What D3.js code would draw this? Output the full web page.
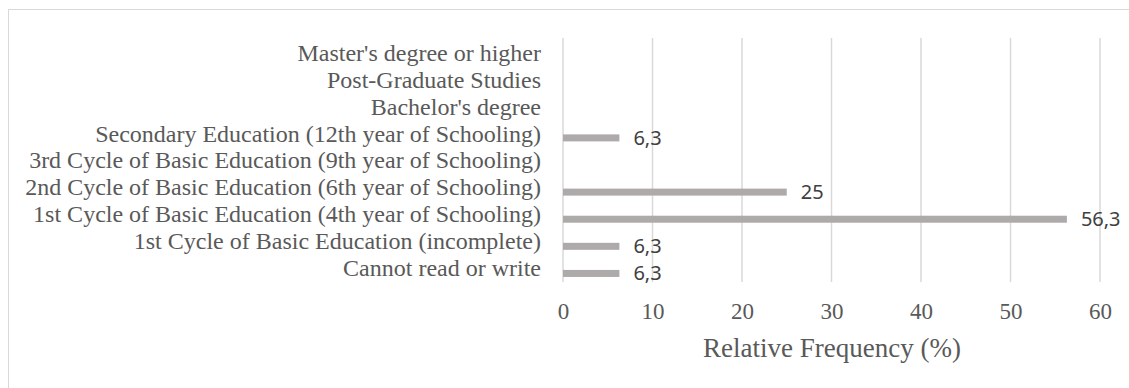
<!DOCTYPE html>
<html>
<head>
<meta charset="utf-8">
<script src="https://cdn.jsdelivr.net/npm/d3@7"></script>
<style>
  html, body { margin: 0; padding: 0; background: #fff; }
  svg { display: block; }
</style>
</head>
<body>
<svg id="chart" width="1129" height="388"></svg>
<script>
// Education levels, top to bottom
const categories = [
  "Master's degree or higher",
  "Post-Graduate Studies",
  "Bachelor's degree",
  "Secondary Education (12th year of Schooling)",
  "3rd Cycle of Basic Education (9th year of Schooling)",
  "2nd Cycle of Basic Education (6th year of Schooling)",
  "1st Cycle of Basic Education (4th year of Schooling)",
  "1st Cycle of Basic Education (incomplete)",
  "Cannot read or write"
];
// Relative frequency (%); null = no respondents
const values = [null, null, null, 6.3, null, 25, 56.3, 6.3, 6.3];
const xTicks = [0, 10, 20, 30, 40, 50, 60];
const xTitle = "Relative Frequency (%)";

const svg = d3.select("#chart");
const serif = "'Liberation Serif', 'Times New Roman', serif";
const sans = "'Noto Sans', 'Open Sans', sans-serif";

// chart frame
svg.append("rect")
  .attr("x", 8.5).attr("y", 9.5)
  .attr("width", 1140).attr("height", 400)
  .attr("fill", "none").attr("stroke", "#d9d9d9").attr("stroke-width", 1);

const plot = { left: 563, right: 1100, top: 38, bottom: 282 };

const x = d3.scaleLinear().domain([0, 60]).range([plot.left, plot.right]);
const y = d3.scaleBand().domain(categories).range([plot.top, plot.bottom]);
// category labels sit on a slightly tighter band
const yLab = d3.scaleBand().domain(categories).range([40, 281.5]);

// vertical gridlines
svg.append("g").selectAll("line")
  .data(xTicks).join("line")
  .attr("x1", d => x(d)).attr("x2", d => x(d))
  .attr("y1", plot.top).attr("y2", plot.bottom)
  .attr("stroke", "#d9d9d9").attr("stroke-width", 1.5);

// x tick labels
const xAxis = d3.axisBottom(x).tickValues(xTicks).tickSize(0).tickPadding(0);
const gx = svg.append("g").attr("transform", `translate(0, ${plot.bottom + 21})`).call(xAxis);
gx.select(".domain").remove();
gx.selectAll("text")
  .attr("dy", "0.71em")
  .style("font-family", serif).style("font-size", "23px").attr("fill", "#595959");

// axis title
svg.append("text")
  .attr("x", (plot.left + plot.right) / 2 + 0.5).attr("y", 357)
  .attr("text-anchor", "middle")
  .style("font-family", serif).style("font-size", "27px").attr("fill", "#595959")
  .text(xTitle);

// category labels
const yAxis = d3.axisLeft(yLab).tickSize(0).tickPadding(0);
const gy = svg.append("g").attr("transform", `translate(541, 0)`).call(yAxis);
gy.select(".domain").remove();
gy.selectAll("text")
  .style("font-family", serif).style("font-size", "24px").attr("fill", "#595959");

const barH = 7;
const barOffset = 5;
const rows = categories.map((c, i) => ({ c, v: values[i] })).filter(d => d.v != null);

// bars
svg.append("g").selectAll("rect")
  .data(rows).join("rect")
  .attr("x", x(0))
  .attr("y", d => y(d.c) + y.bandwidth() / 2 + barOffset - barH / 2)
  .attr("width", d => x(d.v) - x(0))
  .attr("height", barH)
  .attr("fill", "#aeaaaa");

// value labels
svg.append("g").selectAll("text")
  .data(rows).join("text")
  .attr("x", d => x(d.v) + 14)
  .attr("y", d => y(d.c) + y.bandwidth() / 2 + barOffset)
  .attr("dy", "0.35em")
  .style("font-family", sans).style("font-size", "20px").attr("fill", "#404040")
  .text(d => String(d.v).replace(".", ","));
</script>
</body>
</html>
